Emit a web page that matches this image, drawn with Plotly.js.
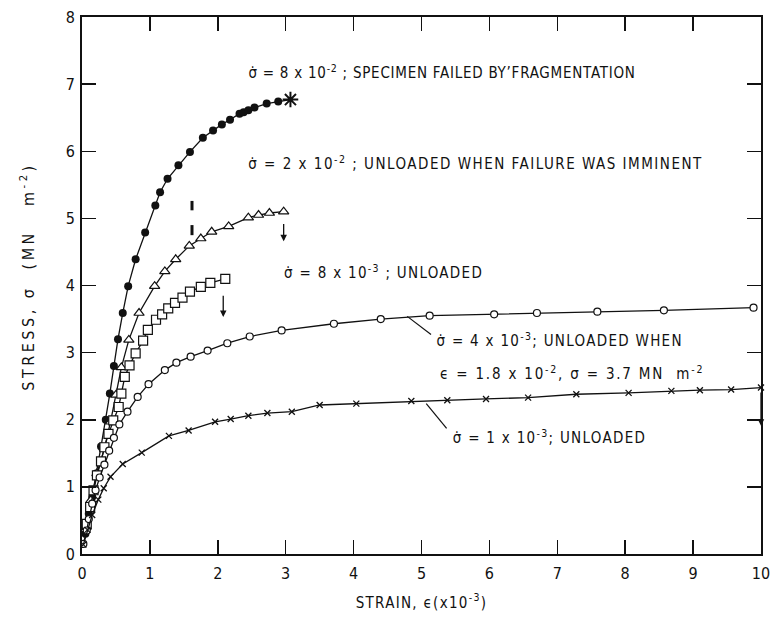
<!DOCTYPE html>
<html>
<head>
<meta charset="utf-8">
<script src="https://cdn.plot.ly/plotly-3.0.1.min.js"></script>
<style>
html,body{margin:0;padding:0;background:#fff;}
#chart{width:783px;height:638px;}
g.annotation[data-index="0"] text{letter-spacing:0.75px;}
g.annotation[data-index="1"] text{letter-spacing:1.5px;}
g.annotation[data-index="2"] text{letter-spacing:1.3px;}
g.annotation[data-index="3"] text{letter-spacing:1.3px;}
g.annotation[data-index="4"] text{letter-spacing:1.8px;}
g.annotation[data-index="5"] text{letter-spacing:1.3px;}
g.annotation[data-index="9"] text{letter-spacing:3.5px;}
text.xtitle{letter-spacing:1.3px;}
</style>
</head>
<body>
<div id="chart"></div>
<script>
// ---- data (strain x1e-3, stress MN m^-2) ----
const fragX = [0.05,0.10,0.15,0.21,0.28,0.35,0.41,0.47,0.53,0.60,0.68,0.79,0.93,1.08,1.15,1.26,1.42,1.59,1.78,1.93,2.06,2.18,2.32,2.38,2.45,2.54,2.72,2.89];
const fragY = [0.30,0.60,0.85,1.20,1.60,2.00,2.39,2.80,3.20,3.59,3.99,4.39,4.79,5.19,5.39,5.59,5.79,5.99,6.20,6.31,6.40,6.47,6.56,6.58,6.61,6.65,6.71,6.74];
const failX = [3.07];
const failY = [6.77];

const triX = [0.06,0.13,0.22,0.33,0.42,0.50,0.58,0.69,0.84,1.07,1.22,1.38,1.58,1.75,1.91,2.16,2.45,2.60,2.76,2.97];
const triY = [0.40,0.80,1.20,1.57,1.97,2.37,2.78,3.19,3.59,3.99,4.21,4.39,4.59,4.70,4.80,4.88,5.01,5.05,5.08,5.10];

const sqX = [0.07,0.12,0.17,0.22,0.28,0.33,0.39,0.46,0.54,0.58,0.63,0.70,0.79,0.90,0.97,1.09,1.18,1.27,1.37,1.48,1.59,1.75,1.89,2.11];
const sqY = [0.45,0.70,0.95,1.17,1.38,1.59,1.79,1.99,2.19,2.39,2.64,2.81,2.99,3.18,3.34,3.49,3.57,3.66,3.74,3.82,3.91,3.98,4.04,4.10];

const ocX = [0.02,0.07,0.10,0.15,0.20,0.26,0.33,0.40,0.47,0.55,0.67,0.82,0.98,1.22,1.39,1.60,1.85,2.14,2.47,2.94,3.71,4.40,5.12,6.07,6.70,7.59,8.57,9.89];
const ocY = [0.15,0.35,0.52,0.75,0.95,1.14,1.33,1.54,1.73,1.93,2.12,2.34,2.53,2.74,2.85,2.94,3.03,3.14,3.24,3.33,3.43,3.50,3.55,3.57,3.59,3.61,3.63,3.67];

const xsX = [0.02,0.08,0.15,0.24,0.32,0.42,0.60,0.88,1.28,1.57,1.96,2.19,2.45,2.73,3.09,3.50,4.04,4.85,5.38,5.95,6.57,7.28,8.05,8.68,9.10,9.56,10.0];
const xsY = [0.14,0.36,0.58,0.81,0.98,1.15,1.34,1.51,1.76,1.84,1.97,2.01,2.06,2.10,2.12,2.22,2.24,2.28,2.29,2.31,2.33,2.38,2.40,2.43,2.44,2.45,2.48];

// short vertical bars drawn on the original near strain 1.6
const barX = [1.62,1.62,null,1.62,1.62];
const barY = [4.75,4.90,null,5.12,5.26];

// unloading arrows: [x, yTail, yHead]
const arrowX = [2.97, 2.08, 10.0];
const arrowTailY = [4.94, 3.87, 2.43];
const arrowHeadY = [4.66, 3.53, 1.91];

// leader lines from curves to labels
const leadX0 = [4.79, 5.07];
const leadY0 = [3.54, 2.24];
const leadX1 = [5.14, 5.37];
const leadY1 = [3.27, 1.87];

const xTicks = [0,1,2,3,4,5,6,7,8,9,10];
const yTicks = [0,1,2,3,4,5,6,7,8];

const labels = [
  {t:'σ̇ = 8 x 10<sup>-2</sup> ; SPECIMEN FAILED BY\u2019FRAGMENTATION', x:2.676, y:7.18},
  {t:'σ̇ = 2 x 10<sup>-2</sup> ; UNLOADED WHEN FAILURE WAS IMMINENT', x:2.955, y:5.83},
  {t:'σ̇ = 8 x 10<sup>-3</sup> ; UNLOADED', x:3.16, y:4.20},
  {t:'σ̇ = 4 x 10<sup>-3</sup>; UNLOADED WHEN', x:5.446, y:3.19},
  {t:'\u03f5 = 1.8 x 10<sup>-2</sup>, σ = 3.7 MN  m<sup>-2</sup>', x:5.653, y:2.70},
  {t:'σ̇ = 1 x 10<sup>-3</sup>; UNLOADED', x:5.64, y:1.74}
];

const yTitle = 'STRESS,\u00a0σ\u00a0\u00a0(MN\u00a0\u00a0\u00a0m<sup>-2</sup>)';
const xTitle = 'STRAIN, \u03f5(x10<sup>-3</sup>)';

const FONT = '"DejaVu Sans Condensed", "Liberation Sans Narrow", "DejaVu Sans", sans-serif';
const BLACK = '#111';

const traces = [
  {x: fragX.concat(failX), y: fragY.concat(failY), mode:'lines', line:{color:BLACK, width:1.3}, hoverinfo:'skip'},
  {x: fragX, y: fragY, mode:'markers', marker:{symbol:'circle', size:8, color:BLACK}},
  {x: failX, y: failY, mode:'markers', marker:{symbol:'asterisk-open', size:13, color:BLACK, line:{color:BLACK, width:2}}, cliponaxis:false},
  {x: triX, y: triY, mode:'lines+markers', line:{color:BLACK, width:1.3},
   marker:{symbol:'triangle-up', size:9, color:'white', line:{color:BLACK, width:1.2}}},
  {x: sqX, y: sqY, mode:'lines+markers', line:{color:BLACK, width:1.3},
   marker:{symbol:'square', size:9, color:'white', line:{color:BLACK, width:1.2}}},
  {x: ocX, y: ocY, mode:'lines+markers', line:{color:BLACK, width:1.3},
   marker:{symbol:'circle', size:7, color:'white', line:{color:BLACK, width:1.2}}},
  {x: xsX, y: xsY, mode:'lines+markers', line:{color:BLACK, width:1.3}, cliponaxis:false,
   marker:{symbol:'x-thin-open', size:6, color:BLACK, line:{color:BLACK, width:1.3}}},
  {x: barX, y: barY, mode:'lines', line:{color:BLACK, width:3}, connectgaps:false}
];

const annotations = labels.map(l => ({
  text:l.t, x:l.x, y:l.y, xref:'x', yref:'y', xanchor:'left', yanchor:'middle',
  showarrow:false, font:{family:FONT, size:15, color:BLACK}
}));
arrowX.forEach((ax,i) => annotations.push({
  x:ax, y:arrowHeadY[i], ax:ax, ay:arrowTailY[i], axref:'x', ayref:'y', xref:'x', yref:'y',
  text:'', showarrow:true, arrowhead:2, arrowsize:1, arrowwidth:1.3, arrowcolor:BLACK
}));
// y-axis title (index 9)
annotations.push({
  text:yTitle, xref:'paper', yref:'paper', x:-0.0795, y:0.516,
  xanchor:'center', yanchor:'middle', textangle:-90, showarrow:false,
  font:{family:FONT, size:16, color:BLACK}
});

const shapes = leadX0.map((x0,i) => ({
  type:'line', xref:'x', yref:'y', x0:x0, y0:leadY0[i], x1:leadX1[i], y1:leadY1[i],
  line:{color:BLACK, width:1.2}
}));

const layout = {
  width:783, height:638,
  margin:{l:82, r:22, t:17, b:84},
  paper_bgcolor:'white', plot_bgcolor:'white',
  showlegend:false,
  font:{family:FONT, color:BLACK},
  xaxis:{
    range:[0,10], tickvals:xTicks, ticktext:xTicks.map(String),
    ticks:'inside', ticklen:14, tickwidth:1.5, tickcolor:BLACK,
    showline:true, linewidth:2, linecolor:BLACK, mirror:'ticks',
    showgrid:false, zeroline:false, ticklabelstandoff:4,
    tickfont:{family:FONT, size:16, color:BLACK},
    title:{text:xTitle, font:{family:FONT, size:15, color:BLACK}, standoff:15}
  },
  yaxis:{
    range:[0,8], tickvals:yTicks, ticktext:yTicks.map(String),
    ticks:'inside', ticklen:14, tickwidth:1.5, tickcolor:BLACK,
    showline:true, linewidth:2, linecolor:BLACK, mirror:'ticks',
    showgrid:false, zeroline:false, ticklabelstandoff:2,
    tickfont:{family:FONT, size:16, color:BLACK}
  },
  annotations:annotations,
  shapes:shapes
};

Plotly.newPlot('chart', traces, layout, {staticPlot:true, displayModeBar:false});
</script>
</body>
</html>
